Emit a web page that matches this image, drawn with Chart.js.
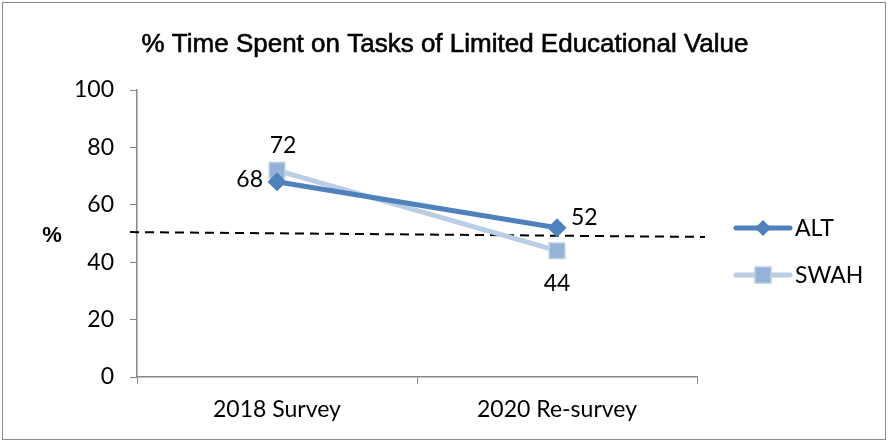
<!DOCTYPE html>
<html><head><meta charset="utf-8">
<script src="https://cdn.jsdelivr.net/npm/chart.js@4/dist/chart.umd.min.js"></script>
<style>
html,body{margin:0;padding:0;background:#fff;}
#wrap{position:absolute;left:0;top:0;width:889px;height:443px;}
#frame{position:absolute;left:2px;top:2px;width:882px;height:436px;border:1px solid #8c8c8c;pointer-events:none;}
</style></head>
<body>
<div id="wrap"><canvas id="c" width="889" height="443"></canvas><div id="frame"></div></div>
<script>
const categories = ["2018 Survey", "2020 Re-survey"];
const altValues = [68, 52];
const swahValues = [72, 44];
const seriesNames = ["ALT", "SWAH"];
const yTicks = [0, 20, 40, 60, 80, 100];
const refLine = [50.5, 48.8];
const titleText = "% Time Spent on Tasks of Limited Educational Value";
const yTitle = "%";

const tickFont = {family: "Lato, 'Open Sans', sans-serif", size: 23};
const dark = "#4F81BD", light = "#B9CDE5", lightFill = "#95B3D7";

const extras = {
  id: "extras",
  beforeDatasetsDraw(chart) {
    const ctx = chart.ctx, x = chart.scales.x, y = chart.scales.y;
    ctx.save();
    ctx.strokeStyle = "#000"; ctx.lineWidth = 2; ctx.setLineDash([9, 6]);
    const x0 = x.left - 7, x1 = x.right + 8;
    ctx.beginPath();
    ctx.moveTo(x0, y.getPixelForValue(refLine[0]));
    ctx.lineTo(x1, y.getPixelForValue(refLine[1]));
    ctx.stroke();
    ctx.restore();
  },
  afterDraw(chart) {
    const ctx = chart.ctx, x = chart.scales.x, y = chart.scales.y;
    ctx.save();
    ctx.fillStyle = "#000";
    // title
    ctx.font = "26px 'Liberation Sans', Arial, sans-serif";
    ctx.textAlign = "center"; ctx.textBaseline = "middle";
    ctx.strokeStyle = "#000"; ctx.lineWidth = 0.6;
    ctx.fillText(titleText, 445, 45);
    ctx.strokeText(titleText, 445, 45);
    // y title
    ctx.font = "bold 22px 'Liberation Sans', Arial, sans-serif";
    ctx.fillText(yTitle, 52, y.getPixelForValue(49));
    // data labels
    ctx.font = "23px " + tickFont.family;
    const m0 = chart.getDatasetMeta(0).data, m1 = chart.getDatasetMeta(1).data;
    ctx.textAlign = "right"; ctx.fillText(String(altValues[0]), m0[0].x - 14, m0[0].y - 2);
    ctx.textAlign = "left"; ctx.fillText(String(altValues[1]), m0[1].x + 14, m0[1].y - 10);
    ctx.textAlign = "center"; ctx.fillText(String(swahValues[0]), m1[0].x + 6, m1[0].y - 25);
    ctx.fillText(String(swahValues[1]), m1[1].x, m1[1].y + 33);
    // legend
    const items = [
      {name: seriesNames[0], color: dark, fill: dark, style: "rectRot"},
      {name: seriesNames[1], color: light, fill: lightFill, style: "rect"}
    ];
    const lx = 736, lw = 54;
    [228, 275].forEach((ly, i) => {
      const it = items[i];
      ctx.strokeStyle = it.color; ctx.lineWidth = 5; ctx.lineCap = "round"; ctx.setLineDash([]);
      ctx.beginPath(); ctx.moveTo(lx, ly); ctx.lineTo(lx + lw, ly); ctx.stroke();
      ctx.fillStyle = it.fill;
      const cx = lx + lw / 2;
      if (it.style === "rectRot") {
        ctx.beginPath(); ctx.moveTo(cx, ly - 8); ctx.lineTo(cx + 8, ly); ctx.lineTo(cx, ly + 8); ctx.lineTo(cx - 8, ly); ctx.closePath(); ctx.fill();
      } else {
        ctx.fillRect(cx - 8, ly - 8, 16, 16);
        ctx.strokeStyle = light; ctx.lineWidth = 1.5; ctx.strokeRect(cx - 8, ly - 8, 16, 16);
      }
      ctx.fillStyle = "#000"; ctx.textAlign = "left"; ctx.textBaseline = "middle";
      ctx.font = "23px " + tickFont.family;
      ctx.fillText(it.name, lx + lw + 5, ly + 1);
    });
    ctx.restore();
  }
};

new Chart(document.getElementById("c"), {
  type: "line",
  data: {
    labels: categories,
    datasets: [
      {label: seriesNames[0], data: altValues, borderColor: dark, backgroundColor: dark, borderWidth: 5,
       pointStyle: "rectRot", pointRadius: 9, pointBorderWidth: 1, pointBorderColor: dark, pointBackgroundColor: dark},
      {label: seriesNames[1], data: swahValues, borderColor: light, backgroundColor: lightFill, borderWidth: 5,
       pointStyle: "rect", pointRadius: 11, pointBorderWidth: 1.5, pointBorderColor: light, pointBackgroundColor: lightFill}
    ]
  },
  options: {
    responsive: false, animation: false,
    layout: {padding: {left: 0, top: 90, right: 192, bottom: 0}},
    plugins: {
      legend: {display: false}, tooltip: {enabled: false}, title: {display: false}
    },
    scales: {
      x: {
        offset: true,
        grid: {offset: true, drawOnChartArea: false, color: "#868686", tickLength: 7, lineWidth: 1},
        border: {color: "#868686", width: 1.5},
        ticks: {color: "#000", font: tickFont, padding: 12, maxRotation: 0},
        afterFit(s) { s.height = 66; }
      },
      y: {
        min: 0, max: 100,
        afterBuildTicks(s) { s.ticks = yTicks.map(v => ({value: v})); },
        grid: {drawOnChartArea: false, color: "#868686", tickLength: 7},
        border: {color: "#868686", width: 1.5},
        ticks: {color: "#000", font: tickFont, padding: 16},
        afterFit(s) { s.width = 137; }
      }
    }
  },
  plugins: [extras]
});
</script>
</body></html>
